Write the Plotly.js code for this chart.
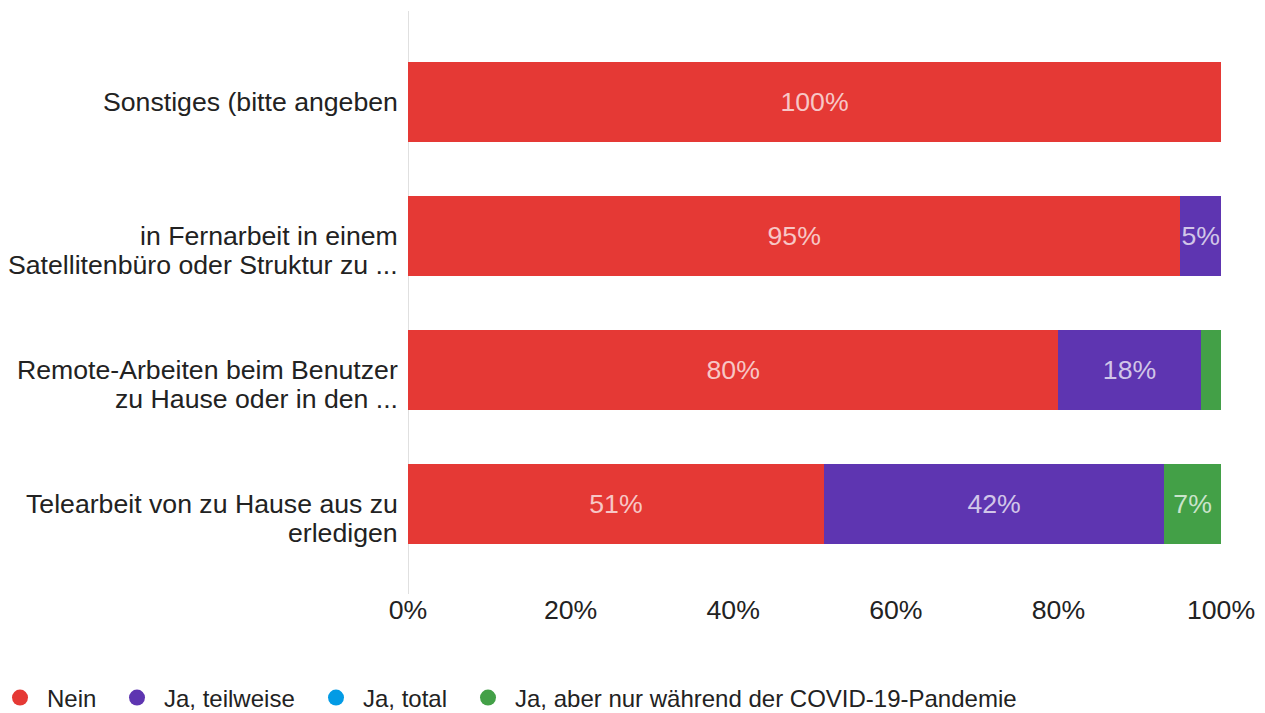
<!DOCTYPE html>
<html>
<head>
<meta charset="utf-8">
<script src="https://cdn.plot.ly/plotly-3.0.1.min.js"></script>
<style>html,body{margin:0;padding:0;background:#fff;}#chart{width:1265px;height:713px;}</style>
</head>
<body>
<div id="chart"></div>
<script>
// Categories listed bottom to top; "\n" marks a line break in the label
const categories = [
  "Telearbeit von zu Hause aus zu\nerledigen",
  "Remote-Arbeiten beim Benutzer\nzu Hause oder in den ...",
  "in Fernarbeit in einem\nSatellitenbüro oder Struktur zu ...",
  "Sonstiges (bitte angeben"
];
const seriesNames = ["Nein", "Ja, teilweise", "Ja, total", "Ja, aber nur während der COVID-19-Pandemie"];
const nein      = [51.16, 80, 95, 100];
const teilweise = [41.86, 17.5, 5, 0];
const total     = [0, 0, 0, 0];
const covid     = [6.98, 2.5, 0, 0];
const colors = ["#e53935", "#5e35b1", "#039be5", "#43a047"];
const tickVals = [0, 20, 40, 60, 80, 100];
const tickText = ["0%", "20%", "40%", "60%", "80%", "100%"];

const allSeries = [nein, teilweise, total, covid];
const FONT = "Liberation Sans, Arial, sans-serif";
const LABEL_SIZE = 26.67;
const LINE_STEP = 28.5;

// geometry
const W = 1265, H = 713;
const M = {l: 408, r: 44, t: 11, b: 122};
const PW = W - M.l - M.r, PH = H - M.t - M.b;
const legendLeftPx = [-7, 110, 309, 461];   // left edge of each legend entry
const legendCenterY = 698;

const traces = [];
allSeries.forEach((vals, i) => {
  traces.push({
    type: "bar",
    orientation: "h",
    y: categories,
    x: vals,
    name: seriesNames[i],
    marker: {color: colors[i]},
    text: vals.map(v => v >= 5 ? Math.round(v) + "%" : ""),
    textposition: "inside",
    insidetextanchor: "middle",
    textangle: 0,
    constraintext: "none",
    textfont: {family: FONT, size: LABEL_SIZE, color: "rgba(255,255,255,0.72)"},
    hoverinfo: "none",
    showlegend: false
  });
});
seriesNames.forEach((n, i) => {
  traces.push({
    type: "scatter", mode: "markers", x: [null], y: [null],
    name: n, marker: {color: colors[i], size: 20, symbol: "circle"},
    showlegend: true, hoverinfo: "none",
    legend: i === 0 ? "legend" : "legend" + (i + 1)
  });
});

// Category labels: first line centred on the bar, following lines below
const annotations = [];
categories.forEach(c => {
  c.split("\n").forEach((line, k) => {
    annotations.push({
      xref: "paper", x: 0, xanchor: "right", xshift: -8,
      yref: "y", y: c, yanchor: "middle", yshift: -k * LINE_STEP,
      text: line, showarrow: false,
      font: {family: FONT, size: LABEL_SIZE, color: "#222"}
    });
  });
});

const layout = {
  width: W, height: H,
  margin: {l: M.l, r: M.r, t: M.t, b: M.b, autoexpand: false},
  barmode: "stack",
  bargap: 0.4,
  paper_bgcolor: "#fff",
  plot_bgcolor: "#fff",
  font: {family: FONT, color: "#222"},
  xaxis: {
    range: [0, 100], tickvals: tickVals, ticktext: tickText,
    showgrid: false, zeroline: false, showline: false,
    tickfont: {size: LABEL_SIZE, color: "#222"},
    ticks: "", fixedrange: true, automargin: false
  },
  yaxis: {
    type: "category",
    categoryorder: "array", categoryarray: categories,
    range: [-0.649, 3.679],
    showgrid: false, zeroline: false, showline: false,
    showticklabels: false, ticks: "",
    fixedrange: true, automargin: false
  },
  shapes: [{
    type: "line", xref: "x", x0: 0, x1: 0,
    yref: "paper", y0: -3 / PH, y1: 1,
    line: {color: "#e0e0e0", width: 2}, layer: "below"
  }],
  annotations: annotations,
  showlegend: true
};
legendLeftPx.forEach((px, i) => {
  const key = i === 0 ? "legend" : "legend" + (i + 1);
  layout[key] = {
    orientation: "h", bgcolor: "rgba(0,0,0,0)", itemwidth: 44,
    x: (px - M.l) / PW, xanchor: "left",
    y: -(legendCenterY - (H - M.b)) / PH, yanchor: "middle",
    font: {family: FONT, size: 24, color: "#222"},
    itemclick: false, itemdoubleclick: false
  };
});

Plotly.newPlot("chart", traces, layout, {displayModeBar: false, staticPlot: true});
</script>
</body>
</html>
